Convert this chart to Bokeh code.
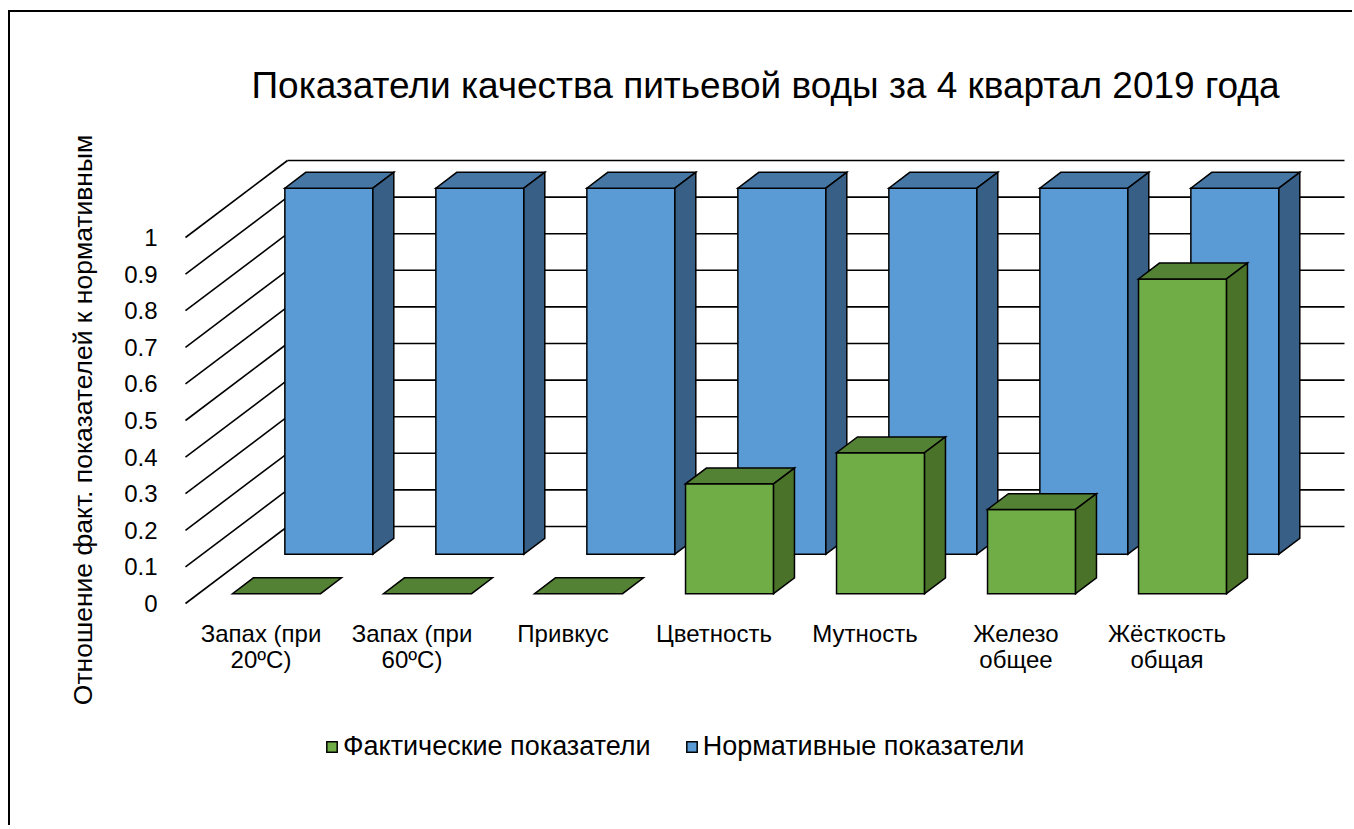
import numpy as np
from bokeh.plotting import figure
from bokeh.models import Range1d, FixedTicker, CustomJSTickFormatter, Legend, LegendItem, ColumnDataSource
from bokeh.embed import file_html
from bokeh.resources import INLINE
from bokeh.core.properties import value

# ---------------- data ----------------
chart_title = "Показатели качества питьевой воды за 4 квартал 2019 года"
y_label = "Отношение факт. показателей к нормативным"
categories = ["Запах (при\n20ºC)", "Запах (при\n60ºC)", "Привкус", "Цветность",
              "Мутность", "Железо\nобщее", "Жёсткость\nобщая"]
actual = [0.0, 0.0, 0.0, 0.30, 0.385, 0.23, 0.86]
normative = [1.0, 1.0, 1.0, 1.0, 1.0, 1.0, 1.0]
series_names = ["Фактические показатели", "Нормативные показатели"]
y_ticks = [0, 0.1, 0.2, 0.3, 0.4, 0.5, 0.6, 0.7, 0.8, 0.9, 1.0]

# ---------------- layout / style constants ----------------
FONT = "Liberation Sans"
MARGIN_L, MARGIN_T, BW = 8, 10, 2
W, H = 1344, 815
ORIGIN = (MARGIN_L + BW, MARGIN_T + BW)   # canvas top-left on the page
BORDER_L = 165
PX_X, PX_Y = 151.0, 366.0  # pixels per category / per unit of value
X0S, Y0S = 185.0, 603.0    # page position of (0, 0) on the front plane
DX, DY = 102.0 / PX_X, 77.0 / PX_Y   # offset of the back wall (depth = 1)
BAR_L, BAR_R = 0.225, 0.808
ROW_FRONT = (0.128, 0.333)
ROW_BACK = (0.641, 0.846)

GREEN = ("#70AD47", "#548235", "#4A7229")   # front, top, side
BLUE = ("#5B9BD5", "#4676A4", "#386087")

frame_left = ORIGIN[0] + BORDER_L
frame_bottom = ORIGIN[1] + H
x_start = (frame_left - X0S) / PX_X
x_end = x_start + (W - BORDER_L) / PX_X
y_end = (Y0S - ORIGIN[1]) / PX_Y
y_start = y_end - H / PX_Y

p = figure(width=W, height=H, output_backend="svg", toolbar_location=None,
           x_range=Range1d(x_start, x_end), y_range=Range1d(y_start, y_end),
           x_axis_location=None, y_axis_location="left",
           min_border_left=BORDER_L, min_border_right=0, min_border_top=0, min_border_bottom=0)
p.styles = {"margin-left": f"{MARGIN_L}px", "margin-top": f"{MARGIN_T}px",
            "border-left": f"{BW}px solid #000", "border-top": f"{BW}px solid #000"}
p.grid.visible = False
p.outline_line_color = None
p.background_fill_color = "white"


def proj(x, y, z):
    return x + z * DX, y + z * DY


def poly(pts):
    xs, ys = zip(*[proj(*q) for q in pts])
    return list(xs), list(ys)

# back wall gridlines and side diagonals
n = len(categories)
gx, gy = [], []
for t in y_ticks:
    a = proj(0, t, 1)
    b = proj(n, t, 1)
    gx.append([a[0], b[0]]); gy.append([a[1], b[1]])
    c = proj(0, t, 0)
    gx.append([c[0], a[0]]); gy.append([c[1], a[1]])
p.multi_line(gx, gy, line_color="black", line_width=1.6)


def bars(vals, row, colors):
    z0, z1 = row
    faces = {"front": ([], []), "top": ([], []), "side": ([], [])}
    for i, v in enumerate(vals):
        x0, x1 = i + BAR_L, i + BAR_R
        if v > 0:
            f = poly([(x0, 0, z0), (x1, 0, z0), (x1, v, z0), (x0, v, z0)])
            s = poly([(x1, 0, z0), (x1, 0, z1), (x1, v, z1), (x1, v, z0)])
            faces["front"][0].append(f[0]); faces["front"][1].append(f[1])
            faces["side"][0].append(s[0]); faces["side"][1].append(s[1])
        t = poly([(x0, v, z0), (x1, v, z0), (x1, v, z1), (x0, v, z1)])
        faces["top"][0].append(t[0]); faces["top"][1].append(t[1])
    rs = {}
    for key, col in zip(["front", "top", "side"], colors):
        xs, ys = faces[key]
        rs[key] = p.patches(xs, ys, fill_color=col, line_color="black", line_width=1.5,
                            line_join="miter")
    return rs

blue_r = bars(normative, ROW_BACK, BLUE)
green_r = bars(actual, ROW_FRONT, GREEN)

# category labels
src = ColumnDataSource(dict(x=[i + 0.5 for i in range(n)], y=[-0.046] * n, t=categories))
p.text(x="x", y="y", text="t", source=src, text_font=value(FONT), text_font_size="24px",
       text_align="center", text_baseline="top", text_color="black", text_line_height=0.95)

# title
p.text(x=[(765 - X0S) / PX_X], y=[(Y0S - 85) / PX_Y], text=[chart_title], text_font=value(FONT),
       text_font_size="37px", text_align="center", text_baseline="middle", text_color="black")

# y axis
ax = p.yaxis[0]
ax.ticker = FixedTicker(ticks=y_ticks)
ax.formatter = CustomJSTickFormatter(code="return (Math.round(tick*10)/10).toString();")
ax.axis_line_color = None
ax.major_tick_line_color = None
ax.minor_tick_line_color = None
ax.major_label_standoff = 12
ax.major_label_text_font = FONT
ax.major_label_text_font_size = "24px"
ax.major_label_text_color = "black"
ax.axis_label = y_label
ax.axis_label_text_font = FONT
ax.axis_label_text_font_size = "26.5px"
ax.axis_label_text_font_style = "normal"
ax.axis_label_text_color = "black"
ax.axis_label_standoff = 23

# legend
legend = Legend(items=[LegendItem(label=series_names[0], renderers=[green_r["front"]]),
                       LegendItem(label=series_names[1], renderers=[blue_r["front"]])],
                orientation="horizontal", location=(325 - frame_left, frame_bottom - 762),
                glyph_width=13, glyph_height=13, label_standoff=5, spacing=34,
                padding=0, margin=0, border_line_color=None, background_fill_alpha=0,
                label_text_font=FONT, label_text_font_size="27px", label_text_color="black")
p.add_layout(legend, "center")

open("out.html", "w").write(file_html(p, INLINE))
